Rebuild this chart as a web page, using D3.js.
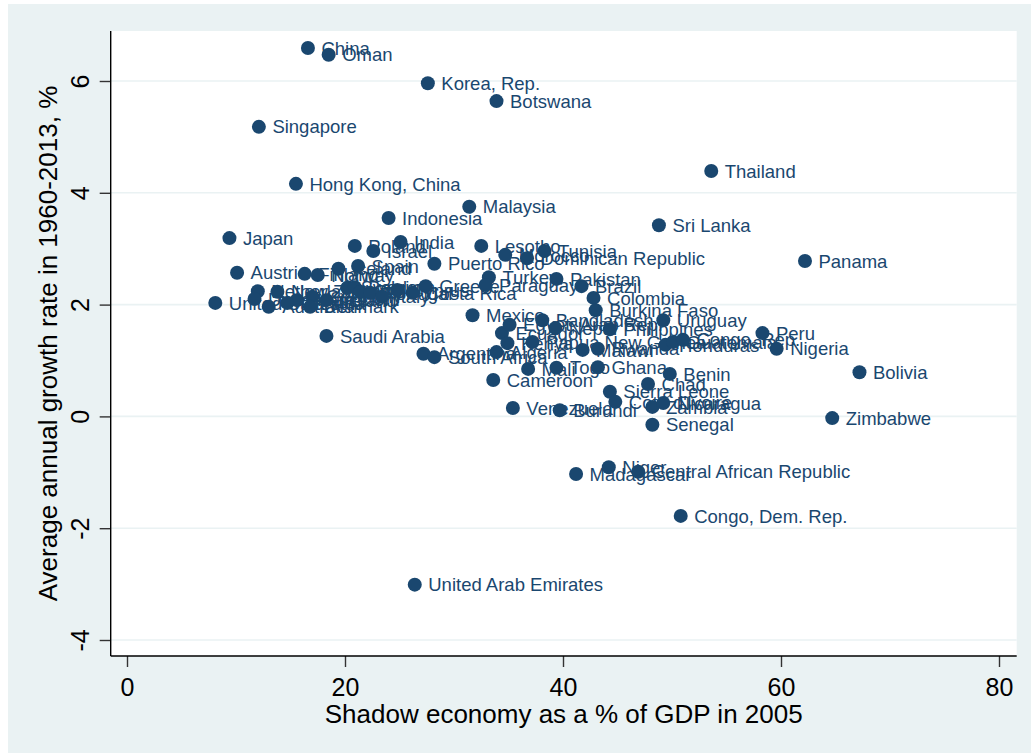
<!DOCTYPE html>
<html><head><meta charset="utf-8">
<script src="https://cdn.jsdelivr.net/npm/d3@7"></script>
<style>html,body{margin:0;padding:0;background:#fff;}svg{display:block;}</style>
</head><body>
<svg id="chart" width="1032" height="754"></svg>
<script>
const countries = ["China","Oman","Korea, Rep.","Botswana","Singapore","Thailand","Hong Kong, China","Malaysia","Indonesia","Sri Lanka","Japan","India","Poland","Israel","Lesotho","Morocco","Dominican Republic","Tunisia","Puerto Rico","Spain","Iceland","Finland","Norway","Austria","Turkey","Pakistan","Paraguay","Brazil","Greece","Costa Rica","Cyprus","Sweden","Belgium","Chile","Portugal","Italy","Ireland","Germany","France","Canada","Denmark","Australia","New Zealand","Netherlands","United Kingdom","United States","Colombia","Burkina Faso","Mexico","Bangladesh","Uruguay","Philippines","Nepal","Ecuador","Egypt, Arab Rep.","Peru","Papua New Guinea","Kenya","Honduras","Guatemala","Congo, Rep.","Nigeria","Bolivia","Algeria","Argentina","South Africa","Malawi","Rwanda","Mali","Togo","Ghana","Benin","Cameroon","Chad","Sierra Leone","Cote d'Ivoire","Zambia","Nicaragua","Venezuela","Burundi","Zimbabwe","Senegal","Niger","Central African Republic","Madagascar","Congo, Dem. Rep.","United Arab Emirates","Saudi Arabia","Panama"];
const shadowEconomy = [16.6,18.5,27.6,33.9,12.1,53.6,15.5,31.4,24.0,48.8,9.4,25.1,20.9,22.6,32.5,34.7,36.7,38.3,28.2,21.2,19.4,16.3,17.5,10.1,33.2,39.4,32.9,41.7,27.4,26.2,24.8,20.2,20.9,21.4,22.3,23.4,18.3,17.0,15.6,14.7,16.8,13.0,13.8,12.0,11.7,8.1,42.8,43.0,31.7,38.1,49.2,44.3,39.3,34.4,35.1,58.3,37.2,34.9,49.4,50.1,51.0,59.6,67.2,33.9,27.2,28.2,41.8,43.2,36.8,39.4,43.2,49.8,33.6,47.8,44.3,44.8,48.2,49.2,35.4,39.7,64.7,48.2,44.2,46.9,41.2,50.8,26.4,18.3,62.2];
const growthRate = [6.59,6.47,5.96,5.64,5.18,4.39,4.16,3.75,3.55,3.42,3.19,3.12,3.05,2.96,3.05,2.89,2.83,2.96,2.73,2.69,2.64,2.55,2.53,2.57,2.49,2.46,2.35,2.33,2.33,2.21,2.26,2.30,2.31,2.23,2.21,2.14,2.08,2.14,2.08,2.03,1.96,1.96,2.23,2.24,2.10,2.03,2.12,1.90,1.81,1.72,1.72,1.56,1.58,1.49,1.64,1.49,1.33,1.31,1.28,1.33,1.37,1.21,0.79,1.15,1.12,1.06,1.19,1.21,0.85,0.87,0.88,0.76,0.65,0.58,0.44,0.26,0.17,0.24,0.15,0.11,-0.03,-0.15,-0.91,-0.99,-1.03,-1.78,-3.01,1.44,2.78];
const xTicks = [0,20,40,60,80];
const yTicks = [-4,-2,0,2,4,6];
const xTitle = "Shadow economy as a % of GDP in 2005";
const yTitle = "Average annual growth rate in 1960-2013, %";

const data = countries.map((c,i)=>({name:c, x:shadowEconomy[i], y:growthRate[i]}));

const svg = d3.select("#chart");
const W = 1032, H = 754;
const bg = "#eaf2f3", navy = "#1a476f";
const font = "'Liberation Sans', Arial, sans-serif";
const plot = {left:110.7, right:1016.7, top:31, bottom:656};

svg.append("rect").attr("x",8).attr("y",4).attr("width",W-9).attr("height",H-5).attr("fill",bg);
svg.append("rect").attr("x",plot.left).attr("y",plot.top).attr("width",plot.right-plot.left).attr("height",plot.bottom-plot.top).attr("fill","#fff");

const x = d3.scaleLinear().domain([0,80]).range([127,999]);
const y = d3.scaleLinear().domain([-4,6]).range([640,81]);
const fmt = d => String(d);

// gridlines
svg.append("g").selectAll("line").data(yTicks).join("line")
  .attr("x1",plot.left).attr("x2",plot.right)
  .attr("y1",d=>y(d)).attr("y2",d=>y(d))
  .attr("stroke",bg).attr("stroke-width",1.6);

// y axis
const yAxis = svg.append("g").attr("transform",`translate(${plot.left},0)`)
  .call(d3.axisLeft(y).tickValues(yTicks).tickSize(11).tickPadding(6).tickFormat(fmt));
yAxis.select(".domain").remove();
yAxis.append("line").attr("x1",0).attr("x2",0).attr("y1",plot.top).attr("y2",plot.bottom).attr("stroke","#000").attr("stroke-width",1.4);
yAxis.selectAll(".tick line").attr("stroke","#333").attr("stroke-width",1.4);
yAxis.selectAll(".tick text")
  .attr("x",null).attr("dy",null)
  .attr("text-anchor","middle")
  .attr("transform","translate(-22,0) rotate(-90)")
  .attr("fill","#000")
  .style("font-family",font).style("font-size","25px");

// x axis
const xAxis = svg.append("g").attr("transform",`translate(0,${plot.bottom})`)
  .call(d3.axisBottom(x).tickValues(xTicks).tickSize(11).tickPadding(6).tickFormat(fmt));
xAxis.select(".domain").remove();
xAxis.append("line").attr("x1",plot.left).attr("x2",plot.right).attr("y1",0).attr("y2",0).attr("stroke","#000").attr("stroke-width",1.4);
xAxis.selectAll(".tick line").attr("stroke","#333").attr("stroke-width",1.4);
xAxis.selectAll(".tick text")
  .attr("y",40).attr("dy",null)
  .attr("fill","#000")
  .style("font-family",font).style("font-size","25px");

// titles
svg.append("text").attr("x",(plot.left+plot.right)/2).attr("y",723)
  .attr("text-anchor","middle").attr("fill","#000")
  .style("font-family",font).style("font-size","26px")
  .text(xTitle);
svg.append("text").attr("transform",`translate(57,${(plot.top+plot.bottom)/2}) rotate(-90)`)
  .attr("text-anchor","middle").attr("fill","#000")
  .style("font-family",font).style("font-size","26px")
  .text(yTitle);

// points and labels
const pts = svg.append("g").selectAll("g").data(data).join("g");
pts.append("circle").attr("cx",d=>x(d.x)).attr("cy",d=>y(d.y)).attr("r",7).attr("fill",navy);
pts.append("text").attr("x",d=>x(d.x)+13.5).attr("y",d=>y(d.y)).attr("dy","0.36em")
  .attr("fill",navy)
  .style("font-family",font).style("font-size","18.5px")
  .text(d=>d.name);
</script>
</body></html>
